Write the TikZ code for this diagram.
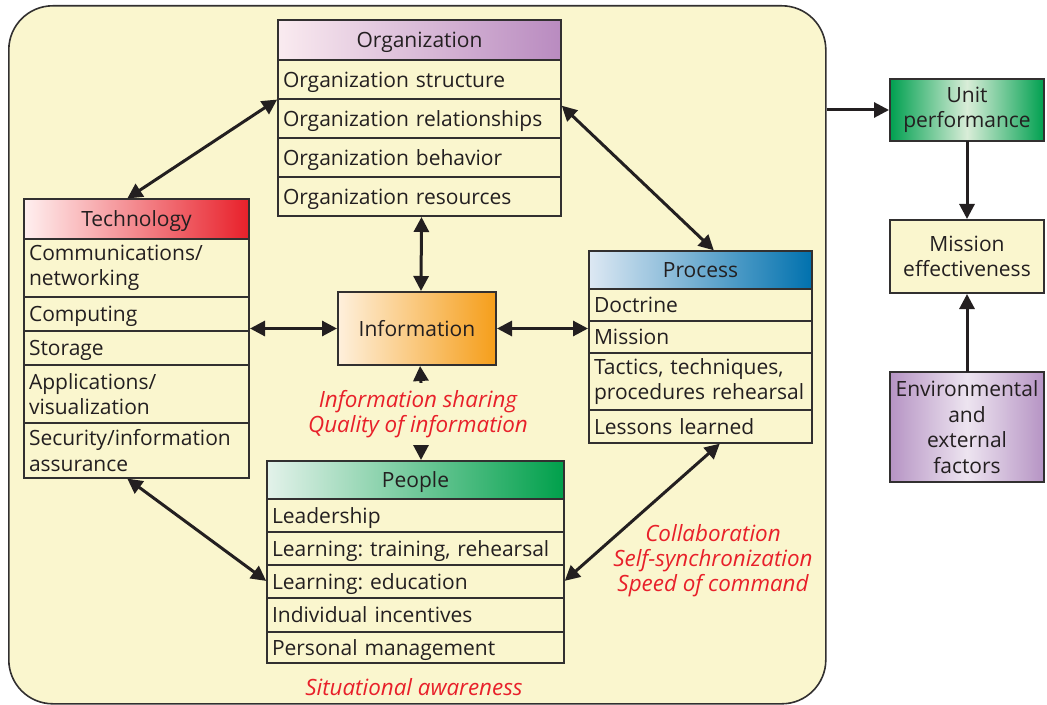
\documentclass[tikz,border=0pt]{standalone}
\usepackage{fontspec}
\setmainfont{Open Sans}
\usetikzlibrary{arrows.meta,positioning}
\definecolor{bgc}{RGB}{250,246,206}
\definecolor{linec}{RGB}{50,48,48}
\definecolor{textc}{RGB}{35,31,32}
\definecolor{redc}{RGB}{232,32,42}
\tikzset{every picture/.style={/utils/exec={\frenchspacing\fontsize{10.5}{12.8}\selectfont}}}

\begin{document}
\begin{tikzpicture}[x=0.5pt, y=-0.5pt]
  \tikzstyle{box} = [draw=linec, line width=0.8pt, text=textc, inner xsep=2.5pt, inner ysep=0pt, outer sep=0pt]
  \tikzstyle{oneline} = [text depth=0pt]
  \tikzstyle{head} = [box, oneline, minimum height=20pt, anchor=north west]
  \tikzstyle{row} = [box, fill=bgc, align=left, anchor=north]
  \tikzstyle{orgrow} = [row, oneline, text width=136.5pt, minimum height=19.5pt]
  \tikzstyle{techrow} = [row, text width=107.5pt]
  \tikzstyle{procrow} = [row, text width=106.5pt]
  \tikzstyle{peorow} = [row, oneline, text width=143.5pt, minimum height=16.5pt]
  \tikzstyle{side} = [box, minimum width=77pt, align=center, anchor=north west]
  \tikzstyle{lbl} = [text=redc, font=\fontsize{11.2}{12.5}\selectfont\itshape, align=center]
  \tikzstyle{arrow} = [-{Triangle[length=7.5pt,width=7.5pt]}, line width=1.5pt, draw=textc, shorten >=0.5pt]
  \tikzstyle{dbl} = [{Triangle[length=7.5pt,width=7.5pt]}-{Triangle[length=7.5pt,width=7.5pt]}, line width=1.5pt, draw=textc, shorten >=0.5pt, shorten <=0.5pt]

  \useasboundingbox (0,0) rectangle (1047,705);

  % background panel
  \node (panel) [draw=linec, line width=0.8pt, fill=bgc, rounded corners=22pt, minimum width=408.5pt, minimum height=349pt, anchor=north west] at (8,5) {};

  % Organization
  \node (orghead) [head, minimum width=141.5pt, left color=purple!8, right color={rgb,255:red,185;green,139;blue,192}] at (278,20) {Organization};
  \node (orgstr) [orgrow, below=0pt of orghead] {Organization structure};
  \node (orgrel) [orgrow, below=0pt of orgstr] {Organization relationships};
  \node (orgbeh) [orgrow, below=0pt of orgrel] {Organization behavior};
  \node (orgres) [orgrow, below=0pt of orgbeh] {Organization resources};

  % Technology
  \node (techhead) [head, minimum width=112.5pt, left color=red!6, right color=redc] at (24,199) {Technology};
  \node (techcom) [techrow, minimum height=29pt, below=0pt of techhead] {Communications/\\networking};
  \node (techcmp) [techrow, oneline, minimum height=17pt, below=0pt of techcom] {Computing};
  \node (techsto) [techrow, oneline, minimum height=17pt, below=0pt of techcmp] {Storage};
  \node (techapp) [techrow, minimum height=29pt, below=0pt of techsto] {Applications/\\visualization};
  \node (techsec) [techrow, minimum height=27.5pt, below=0pt of techapp] {Security/information\\assurance};

  % Process
  \node (prochead) [head, minimum width=111.5pt, minimum height=19pt, left color={rgb,255:red,221;green,232;blue,243}, right color={rgb,255:red,0;green,113;blue,174}] at (589,251) {Process};
  \node (procdoc) [procrow, oneline, minimum height=16pt, below=0pt of prochead] {Doctrine};
  \node (procmis) [procrow, oneline, minimum height=16pt, below=0pt of procdoc] {Mission};
  \node (proctac) [procrow, minimum height=28.5pt, below=0pt of procmis] {Tactics, techniques,\\procedures rehearsal};
  \node (procles) [procrow, oneline, minimum height=16.5pt, below=0pt of proctac] {Lessons learned};

  % People
  \node (peohead) [head, minimum width=148.5pt, minimum height=19pt, left color={rgb,255:red,227;green,242;blue,234}, right color={rgb,255:red,0;green,160;blue,75}] at (267,461) {People};
  \node (peolead) [peorow, below=0pt of peohead] {Leadership};
  \node (peotrn) [peorow, below=0pt of peolead] {Learning: training, rehearsal};
  \node (peoedu) [peorow, below=0pt of peotrn] {Learning: education};
  \node (peoinc) [peorow, minimum height=17pt, below=0pt of peoedu] {Individual incentives};
  \node (peoman) [peorow, minimum height=15.5pt, below=0pt of peoinc] {Personal management};

  % Information
  \node (info) [box, oneline, minimum width=79pt, minimum height=36.5pt, anchor=north west, left color={rgb,255:red,254;green,240;blue,220}, right color={rgb,255:red,245;green,158;blue,26}] at (338,292) {Information};

  % outcome column
  \node (unit) [side, minimum height=31pt, left color={rgb,255:red,0;green,160;blue,80}, right color={rgb,255:red,0;green,160;blue,80}, middle color={rgb,255:red,217;green,237;blue,216}] at (890,79) {Unit\\performance};
  \node (miss) [side, minimum height=36.5pt, fill=bgc] at (890,220) {Mission\\effectiveness};
  \node (env) [side, minimum height=55pt, left color={rgb,255:red,182;green,148;blue,196}, right color={rgb,255:red,182;green,148;blue,196}, middle color={rgb,255:red,237;green,228;blue,240}] at (890,372) {Environmental\\and\\external\\factors};

  % red labels
  \node (infolbl) [lbl] at (418,414) {Information sharing\\Quality of information};
  \node (collbl) [lbl] at (713,561) {Collaboration\\Self-synchronization\\Speed of command};
  \node (salbl) [lbl] at (414,687) {Situational awareness};

  % links
  \draw [dbl] (orgrel.north west) -- ([xshift=-5pt]techhead.north);
  \draw [dbl] ([yshift=-3pt]orgrel.north east) -- ([xshift=7pt]prochead.north);
  \draw [dbl] ([xshift=1pt]orgres.south) -- ([xshift=2pt]info.north);
  \draw [dbl] (info.west -| techcmp.east) -- (info.west);
  \draw [dbl] (info.east) -- (info.east -| prochead.west);
  \draw [arrow] ([xshift=1.5pt]infolbl.north) -- ([xshift=1.5pt]info.south);
  \draw [arrow] ([xshift=1.5pt]infolbl.south) -- ([xshift=1.5pt]infolbl.south |- peohead.north);
  \draw [dbl] ([xshift=-5pt]techsec.south) -- (peoedu.west);
  \draw [dbl] ([xshift=10pt]procles.south) -- (peoedu.east);
  \draw [arrow] (panel.east |- unit) -- (unit);
  \draw [arrow] (unit) -- (miss);
  \draw [arrow] (env) -- (miss);
\end{tikzpicture}
\end{document}
